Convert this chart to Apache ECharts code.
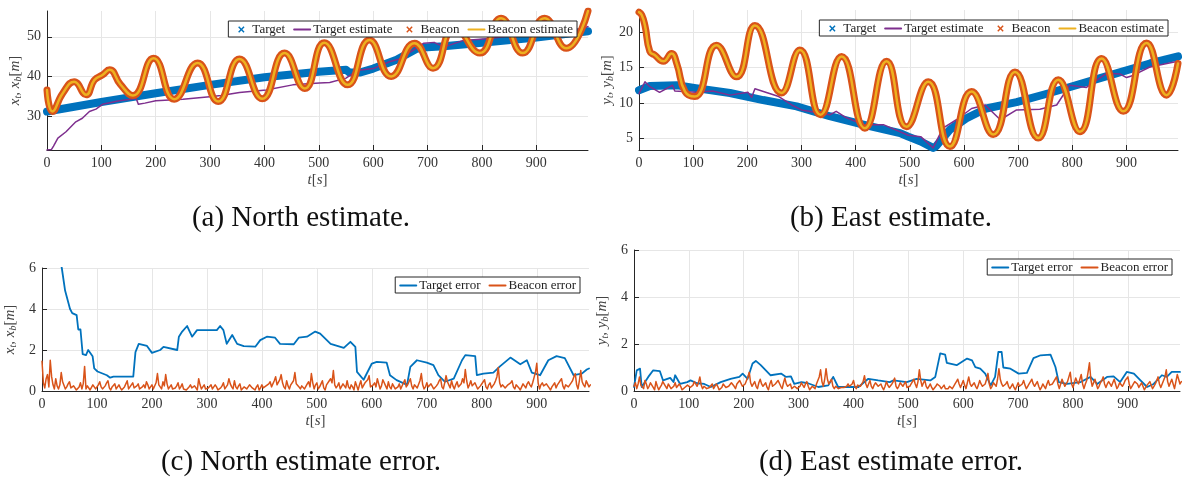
<!DOCTYPE html>
<html>
<head>
<meta charset="utf-8">
<script src="https://cdn.jsdelivr.net/npm/echarts@6/dist/echarts.min.js"></script>
<style>
  html, body { margin: 0; padding: 0; background: #fff; }
  #main { width: 1182px; height: 478px; }
</style>
</head>
<body>
<div id="main"></div>
<script>
// ---- data: [t (s), value (m)] ----
const northTarget = [[0,31.2],[100,33.6],[200,35.8],[300,37.9],[400,39.8],[500,41.2],[550,41.7],[556,41.0],[575,41.0],[600,42.0],[643,44.2],[680,47.0],[700,47.4],[730,47.6],[800,48.5],[900,49.8],[995,51.4]];
const northTargetEst = [[0,21.5],[8,21.6],[12,22.5],[20,24.5],[35,26.1],[53,28.6],[65,29.5],[78,31.2],[90,31.8],[102,33.0],[133,33.9],[150,34.2],[164,34.5],[168,33.0],[180,33.3],[200,33.9],[250,34.3],[299,34.9],[320,35.2],[354,36.0],[403,36.6],[452,37.9],[501,38.4],[520,38.5],[550,39.6],[570,41.5],[600,42.0],[631,43.8],[650,44.5],[693,48.4],[712,48.6],[730,47.4],[766,49.1],[815,49.6],[865,50.5],[939,50.9],[988,52.2],[995,52.6]];
const northBeacon = [[0,36.6],[10,31.2],[29,35.8],[50,38.7],[72,35.4],[87,39.1],[102,40.4],[115,41.7],[135,38.0],[158,35.2],[196,44.6],[234,34.3],[277,43.4],[315,33.7],[354,44.4],[396,34.4],[437,45.9],[474,37.0],[510,48.5],[553,37.9],[593,49.2],[633,40.0],[676,48.4],[710,42.1],[750,52.5],[796,45.9],[835,54.7],[875,45.9],[915,54.7],[955,47.1],[995,56.5]];

const eastTarget = [[0,11.8],[20,12.4],[70,12.5],[105,12.1],[168,11.4],[229,10.4],[291,9.5],[352,8.1],[414,6.9],[482,5.7],[497,5.2],[520,4.5],[543,3.6],[548,3.8],[574,6.2],[604,7.8],[641,9.2],[697,10.1],[758,11.4],[820,12.8],[881,14.2],[943,15.6],[995,16.6]];
const eastTargetEst = [[0,11.3],[11,13.0],[20,12.3],[38,11.5],[62,12.5],[66,11.7],[105,11.5],[136,11.7],[168,11.1],[201,11.5],[208,10.8],[214,12.0],[258,10.9],[282,9.7],[300,9.0],[352,8.3],[364,8.8],[380,8.0],[414,6.9],[451,6.9],[497,5.4],[520,5.2],[543,3.6],[561,6.4],[586,7.6],[614,9.2],[639,9.7],[667,7.6],[697,9.0],[740,9.1],[771,9.7],[795,12.5],[826,12.2],[863,14.2],[888,14.1],[900,13.6],[912,13.9],[943,15.1],[995,15.9]];
const eastBeacon = [[0,22.9],[5,22.5],[11,21.0],[20,17.3],[29,16.8],[45,15.9],[60,17.0],[70,15.5],[85,11.6],[103,10.9],[143,18.2],[180,13.7],[214,21.0],[263,11.4],[297,17.5],[335,8.3],[374,16.6],[417,6.4],[457,15.9],[494,6.6],[534,13.0],[574,3.8],[614,11.6],[654,5.5],[694,14.4],[737,5.0],[774,13.3],[814,5.9],[854,16.3],[894,8.8],[937,18.5],[974,11.1],[995,15.6]];

const northTargetErr = [[0,11],[25,7.5],[36,6.0],[42,4.9],[51,4.0],[55,3.8],[63,3.7],[66,3.0],[70,3.0],[74,1.8],[80,1.75],[84,2.0],[92,1.7],[95,1.1],[101,0.95],[118,0.77],[124,0.65],[130,0.7],[166,0.7],[170,1.9],[176,2.3],[191,2.2],[200,1.86],[215,2.0],[221,2.15],[246,2.0],[249,2.65],[255,2.9],[264,3.17],[273,2.65],[282,2.97],[318,2.97],[324,3.17],[330,2.97],[336,2.3],[346,2.73],[355,2.3],[367,2.19],[388,2.16],[397,2.48],[409,2.65],[424,2.6],[433,2.3],[458,2.28],[467,2.6],[482,2.65],[497,2.9],[506,2.8],[525,2.3],[537,2.2],[549,2.1],[561,2.4],[570,2.15],[573,0.93],[585,0.55],[600,1.34],[609,1.42],[627,1.38],[633,0.77],[645,0.53],[664,0.3],[670,1.18],[682,1.5],[700,1.38],[712,1.26],[721,0.77],[733,0.45],[749,0.6],[764,1.5],[770,1.75],[788,1.7],[791,0.77],[803,0.85],[821,0.9],[833,1.2],[852,1.63],[870,1.3],[882,1.5],[891,0.9],[906,0.77],[921,1.5],[936,1.7],[951,1.6],[967,0.77],[982,0.85],[991,1.05],[995,1.1]];
const eastTargetErr = [[0,0.17],[5,0.88],[11,0.95],[14,0.17],[26,0.6],[35,0.88],[47,0.85],[53,0.45],[66,0.56],[72,0.38],[75,0.67],[84,0.3],[97,0.38],[103,0.45],[115,0.33],[128,0.3],[140,0.17],[158,0.38],[176,0.52],[192,0.6],[198,0.74],[207,0.52],[216,1.17],[222,1.28],[231,1.1],[249,0.67],[268,0.74],[277,0.6],[286,0.62],[292,0.3],[305,0.38],[317,0.33],[336,0.17],[354,0.24],[363,0.6],[372,0.17],[409,0.17],[427,0.52],[445,0.45],[466,0.38],[473,0.45],[497,0.38],[515,0.52],[540,0.45],[549,0.6],[558,1.6],[567,1.55],[570,1.2],[588,1.1],[607,1.38],[616,1.3],[622,1.02],[631,0.95],[640,0.74],[650,0.24],[658,0.6],[664,1.66],[670,1.66],[673,1.0],[686,0.95],[701,0.74],[716,0.77],[728,1.4],[741,1.52],[759,1.55],[768,1.02],[774,0.38],[789,0.3],[814,0.38],[832,0.6],[844,0.3],[862,0.6],[874,0.62],[886,0.38],[898,0.81],[911,0.74],[923,0.45],[935,0.17],[947,0.3],[962,0.67],[971,0.6],[980,0.81],[995,0.81]];

// beacon error, one value every 2.5 s from t = 0
const errStep = 2.5;
const northBeaconErr = [
  1.45,0.4,0.15,0.6,0.8,0.2,1.5,0.7,0.3,0.1,0.6,0.25,0.1,0.3,0.9,0.45,0.5,0.1,0.2,0.35,
  0.45,0.15,0.1,0.25,0.3,0.05,0.05,0.2,0.4,0.1,0.35,1.2,0.1,0.25,0.3,0.05,0.05,0.3,0.35,0.1,
  0.15,0.3,0.45,0.2,0.1,0.05,0.25,0.4,0.5,0.15,0.05,0.2,0.2,0.35,0.1,0.05,0.3,0.15,0.05,0.1,
  0.2,0.35,0.5,0.1,0.1,0.3,0.4,0.15,0.15,0.25,0.35,0.1,0.05,0.2,0.3,0.15,0.45,0.3,0.1,0.2,
  0.3,0.1,0.15,0.4,0.85,0.3,0.2,0.1,0.45,0.25,0.8,0.35,0.1,0.2,0.3,0.1,0.05,0.15,0.25,0.4,
  0.1,0.2,0.35,0.1,0.15,0.05,0.05,0.2,0.3,0.15,0.1,0.25,0.2,0.05,0.6,0.3,0.1,0.2,0.3,0.1,
  0.05,0.15,0.2,0.3,0.1,0.05,0.3,0.2,0.05,0.1,0.15,0.25,0.4,0.1,0.1,0.3,0.6,0.35,0.2,0.1,
  0.5,0.2,0.1,0.25,0.35,0.05,0.05,0.2,0.25,0.1,0.15,0.3,0.35,0.15,0.1,0.05,0.2,0.3,0.05,0.15,
  0.3,0.15,0.1,0.25,0.2,0.35,0.45,0.2,0.15,0.5,0.7,0.3,0.3,0.55,0.8,0.4,0.2,0.1,0.5,0.25,
  0.1,0.3,0.3,0.5,0.9,0.35,0.4,0.2,0.1,0.25,0.3,0.1,0.15,0.35,0.45,0.2,0.85,0.4,0.1,0.3,
  0.4,0.1,0.2,0.35,0.5,0.15,0.05,0.3,0.35,0.5,0.6,0.4,1.0,0.3,0.15,0.25,0.4,0.1,0.1,0.35,
  0.3,0.15,0.5,0.2,0.1,0.3,0.2,0.05,0.45,0.25,0.05,0.3,0.5,0.15,0.2,0.4,0.35,0.55,0.75,0.2,
  0.15,0.3,0.4,0.2,0.6,0.35,0.1,0.25,0.55,0.4,0.25,0.1,0.45,0.2,0.1,0.35,0.3,0.1,0.05,0.2,
  0.35,0.1,0.15,0.4,0.55,0.2,0.3,0.45,0.6,0.25,0.1,0.3,0.35,0.15,0.2,0.5,0.85,0.3,0.1,0.2,
  0.4,0.2,0.15,0.35,0.3,0.1,0.05,0.25,0.35,0.5,0.6,0.2,0.1,0.4,0.75,0.45,0.3,0.15,0.5,0.25,
  0.1,0.3,0.45,0.2,0.2,0.35,0.6,0.4,1.05,0.5,0.15,0.3,0.5,0.25,0.2,0.4,0.35,0.1,0.05,0.25,
  0.3,0.45,0.55,0.2,0.1,0.3,0.4,0.15,0.2,0.35,0.5,0.7,1.15,0.4,0.2,0.3,0.35,0.15,0.1,0.3,
  0.25,0.4,0.5,0.2,0.1,0.3,0.3,0.15,0.05,0.2,0.35,0.25,0.15,0.35,0.45,0.3,0.2,0.4,0.65,0.9,
  1.35,0.4,0.1,0.3,0.4,0.25,0.2,0.35,0.35,0.15,0.05,0.2,0.3,0.4,0.15,0.3,0.4,0.5,0.6,0.25,
  0.1,0.3,0.35,0.2,0.2,0.4,0.5,0.7,0.85,0.3,0.1,0.5,1.0,0.45,0.3,0.2,0.5,0.35,0.2,0.3];
const eastBeaconErr = [
  0.2,0.35,0.1,0.3,0.6,0.25,0.2,0.1,0.45,0.3,0.1,0.2,0.35,0.4,0.15,0.05,0.4,0.2,0.05,0.15,
  0.25,0.4,0.45,0.2,0.1,0.3,0.3,0.1,0.05,0.2,0.35,0.15,0.1,0.3,0.2,0.05,0.05,0.15,0.15,0.25,
  0.3,0.15,0.1,0.25,0.4,0.3,0.2,0.35,0.6,0.25,0.1,0.2,0.25,0.1,0.05,0.15,0.2,0.3,0.1,0.05,
  0.3,0.2,0.05,0.1,0.15,0.3,0.35,0.15,0.1,0.2,0.25,0.35,0.4,0.2,0.1,0.3,0.3,0.45,0.5,0.2,
  0.15,0.3,0.45,0.6,0.8,0.35,0.2,0.3,0.4,0.2,0.1,0.35,0.5,0.3,0.2,0.25,0.35,0.15,0.05,0.3,
  0.45,0.2,0.15,0.3,0.3,0.45,0.5,0.2,0.1,0.35,0.55,0.3,0.2,0.25,0.3,0.1,0.05,0.2,0.25,0.1,
  0.1,0.2,0.35,0.25,0.15,0.3,0.4,0.2,0.05,0.1,0.2,0.15,0.1,0.3,0.45,0.6,0.9,0.4,0.2,0.5,
  0.95,0.5,0.3,0.4,0.5,0.2,0.1,0.2,0.25,0.1,0.05,0.15,0.2,0.15,0.1,0.2,0.3,0.2,0.15,0.3,
  0.45,0.2,0.1,0.25,0.3,0.2,0.2,0.4,0.65,0.3,0.15,0.3,0.45,0.2,0.1,0.25,0.35,0.3,0.2,0.25,
  0.3,0.15,0.05,0.2,0.4,0.25,0.15,0.2,0.3,0.4,0.55,0.2,0.1,0.2,0.35,0.3,0.2,0.3,0.4,0.15,
  0.1,0.2,0.3,0.4,0.5,0.3,0.15,0.4,0.9,0.45,0.2,0.35,0.45,0.2,0.1,0.2,0.3,0.15,0.05,0.1,
  0.2,0.3,0.35,0.2,0.1,0.15,0.25,0.1,0.05,0.1,0.2,0.15,0.1,0.2,0.3,0.4,0.5,0.3,0.15,0.3,
  0.45,0.25,0.1,0.35,0.6,0.3,0.2,0.25,0.35,0.2,0.1,0.25,0.45,0.3,0.2,0.25,0.3,0.5,0.75,0.3,
  0.1,0.2,0.35,0.3,0.2,0.5,0.95,0.5,0.3,0.2,0.15,0.3,0.4,0.2,0.1,0.2,0.3,0.15,0.05,0.2,
  0.35,0.2,0.15,0.3,0.45,0.25,0.1,0.2,0.3,0.4,0.5,0.3,0.2,0.3,0.4,0.2,0.05,0.15,0.3,0.2,
  0.1,0.3,0.45,0.25,0.2,0.3,0.35,0.5,0.6,0.3,0.1,0.3,0.5,0.35,0.2,0.3,0.4,0.6,0.8,0.3,
  0.15,0.35,0.55,0.4,0.3,0.5,0.7,0.3,0.1,0.3,0.45,0.8,1.2,0.5,0.2,0.35,0.5,0.3,0.1,0.2,
  0.35,0.45,0.6,0.3,0.15,0.3,0.4,0.3,0.2,0.35,0.5,0.3,0.1,0.2,0.35,0.3,0.2,0.3,0.45,0.5,
  0.6,0.3,0.1,0.2,0.3,0.4,0.45,0.3,0.15,0.25,0.35,0.2,0.05,0.15,0.25,0.3,0.4,0.25,0.1,0.2,
  0.3,0.45,0.6,0.3,0.15,0.3,0.45,0.6,0.9,0.4,0.2,0.35,0.5,0.3,0.1,0.4,0.7,0.5,0.3,0.4];

const northTicks = [30, 40, 50];
const eastTicks = [5, 10, 15, 20];

// ---- styling ----
const FONT = 'Liberation Serif';
const C_BLUE = '#0072BD', C_ORANGE = '#D95319', C_YELLOW = '#EDB120', C_PURPLE = '#7E2F8E';
const XMARK = 'path://M0,1.6L1.6,0L5,3.4L8.4,0L10,1.6L6.6,5L10,8.4L8.4,10L5,6.6L1.6,10L0,8.4L3.4,5Z';

const nameRich = {
  i: { fontFamily: FONT, fontStyle: 'italic', fontSize: 15, color: '#444', lineHeight: 16 },
  n: { fontFamily: FONT, fontSize: 15, color: '#444', lineHeight: 16 },
  s: { fontFamily: FONT, fontStyle: 'italic', fontSize: 10, color: '#444', lineHeight: 9, verticalAlign: 'bottom' }
};

function withIndex(arr) {
  return arr.map((v, k) => [k * errStep, v]);
}

function xAxis(g) {
  return {
    type: 'value', gridIndex: g, min: 0, max: 995, interval: 100,
    axisLine: { show: true, lineStyle: { color: '#262626', width: 1 } },
    axisTick: { show: true, inside: true, length: 5, lineStyle: { color: '#262626' } },
    axisLabel: { color: '#333', fontFamily: FONT, fontSize: 14, margin: 6, showMaxLabel: false },
    splitLine: { show: true, showMaxLine: false, lineStyle: { color: '#e6e6e6', width: 1 } },
    name: '{i|t}{n|[}{i|s}{n|]}', nameLocation: 'middle', nameGap: 22,
    nameTextStyle: { rich: nameRich }
  };
}

function yAxis(g, min, max, ticks, name) {
  const ax = {
    type: 'value', gridIndex: g, min: min, max: max,
    axisLine: { show: true, lineStyle: { color: '#262626', width: 1 } },
    axisTick: { show: true, inside: true, length: 5, lineStyle: { color: '#262626' } },
    axisLabel: { color: '#333', fontFamily: FONT, fontSize: 14, margin: 6 },
    splitLine: { show: true, lineStyle: { color: '#e6e6e6', width: 1 } },
    name: name, nameLocation: 'middle', nameGap: 24, nameRotate: 90,
    nameTextStyle: { rich: nameRich }
  };
  if (ticks) {
    ax.axisTick.customValues = ticks;
    ax.axisLabel.customValues = ticks;
  } else {
    ax.interval = 2;
  }
  return ax;
}

function line(name, g, data, color, width, z, extra) {
  return Object.assign({
    type: 'line', name: name, xAxisIndex: g, yAxisIndex: g, data: data,
    symbol: 'none', showSymbol: false, animation: false, silent: true, z: z,
    lineStyle: { color: color, width: width, cap: 'round', join: 'round' },
    itemStyle: { color: color }
  }, extra || {});
}

function legend(items, pos) {
  return Object.assign({
    data: items, orient: 'horizontal',
    backgroundColor: '#fff', borderColor: '#262626', borderWidth: 1, borderRadius: 0,
    padding: [2, 4, 1, 4], itemGap: 8, itemWidth: 16, itemHeight: 8,
    textStyle: { fontFamily: FONT, fontSize: 13, color: '#222', padding: [0, 0, 0, -2] },
    selectedMode: false, z: 10
  }, pos);
}

// marker-only entries hide the line, line-only entries hide the marker
const topItems = [
  { name: 'Target', lineStyle: { opacity: 0 } },
  { name: 'Target estimate', itemStyle: { opacity: 0 } },
  { name: 'Beacon', lineStyle: { opacity: 0 } },
  { name: 'Beacon estimate', itemStyle: { opacity: 0 } }
];
const errItems = [
  { name: 'Target error', itemStyle: { opacity: 0 } },
  { name: 'Beacon error', itemStyle: { opacity: 0 } }
];

const captionFont = '29px "Liberation Serif"';

const option = {
  backgroundColor: '#fff',
  animation: false,
  grid: [
    { left: 47, top: 11, width: 541, height: 139 },
    { left: 639, top: 10, width: 539, height: 140 },
    { left: 42, top: 268, width: 547, height: 123 },
    { left: 634, top: 250, width: 546, height: 141 }
  ],
  xAxis: [xAxis(0), xAxis(1), xAxis(2), xAxis(3)],
  yAxis: [
    yAxis(0, 21.5, 56.5, northTicks, '{i|x}{s|t}{i|, x}{s|b}{n|[}{i|m}{n|]}'),
    yAxis(1, 3.3, 23.2, eastTicks, '{i|y}{s|t}{i|, y}{s|b}{n|[}{i|m}{n|]}'),
    yAxis(2, 0, 6, null, '{i|x}{s|t}{i|, x}{s|b}{n|[}{i|m}{n|]}'),
    yAxis(3, 0, 6, null, '{i|y}{s|t}{i|, y}{s|b}{n|[}{i|m}{n|]}')
  ],
  legend: [
    legend(topItems, { right: 605, top: 21 }),
    legend(topItems, { right: 14, top: 20 }),
    legend(errItems, { right: 602, top: 277 }),
    legend(errItems, { right: 10, top: 259 })
  ],
  series: [
    line('Target', 0, northTarget, C_BLUE, 8, 2, { symbol: XMARK }),
    line('Target estimate', 0, northTargetEst, C_PURPLE, 1.5, 3),
    line('Beacon', 0, northBeacon, C_ORANGE, 7, 4, { symbol: XMARK, smooth: 0.5 }),
    line('Beacon estimate', 0, northBeacon, C_YELLOW, 2.5, 5, { smooth: 0.5 }),

    line('Target', 1, eastTarget, C_BLUE, 8, 2, { symbol: XMARK }),
    line('Target estimate', 1, eastTargetEst, C_PURPLE, 1.5, 3),
    line('Beacon', 1, eastBeacon, C_ORANGE, 7, 4, { symbol: XMARK, smooth: 0.5 }),
    line('Beacon estimate', 1, eastBeacon, C_YELLOW, 2.5, 5, { smooth: 0.5 }),

    line('Target error', 2, northTargetErr, C_BLUE, 1.8, 2),
    line('Beacon error', 2, withIndex(northBeaconErr), C_ORANGE, 1.5, 3),

    line('Target error', 3, eastTargetErr, C_BLUE, 1.8, 2),
    line('Beacon error', 3, withIndex(eastBeaconErr), C_ORANGE, 1.5, 3)
  ],
  graphic: [
    { type: 'text', x: 301, y: 218, style: { text: '(a) North estimate.', font: captionFont, fill: '#111', textAlign: 'center', textVerticalAlign: 'middle' } },
    { type: 'text', x: 891, y: 218, style: { text: '(b) East estimate.', font: captionFont, fill: '#111', textAlign: 'center', textVerticalAlign: 'middle' } },
    { type: 'text', x: 301, y: 462, style: { text: '(c) North estimate error.', font: captionFont, fill: '#111', textAlign: 'center', textVerticalAlign: 'middle' } },
    { type: 'text', x: 891, y: 462, style: { text: '(d) East estimate error.', font: captionFont, fill: '#111', textAlign: 'center', textVerticalAlign: 'middle' } }
  ]
};

const chart = echarts.init(document.getElementById('main'), null, { renderer: 'canvas' });
chart.setOption(option);
</script>
</body>
</html>
